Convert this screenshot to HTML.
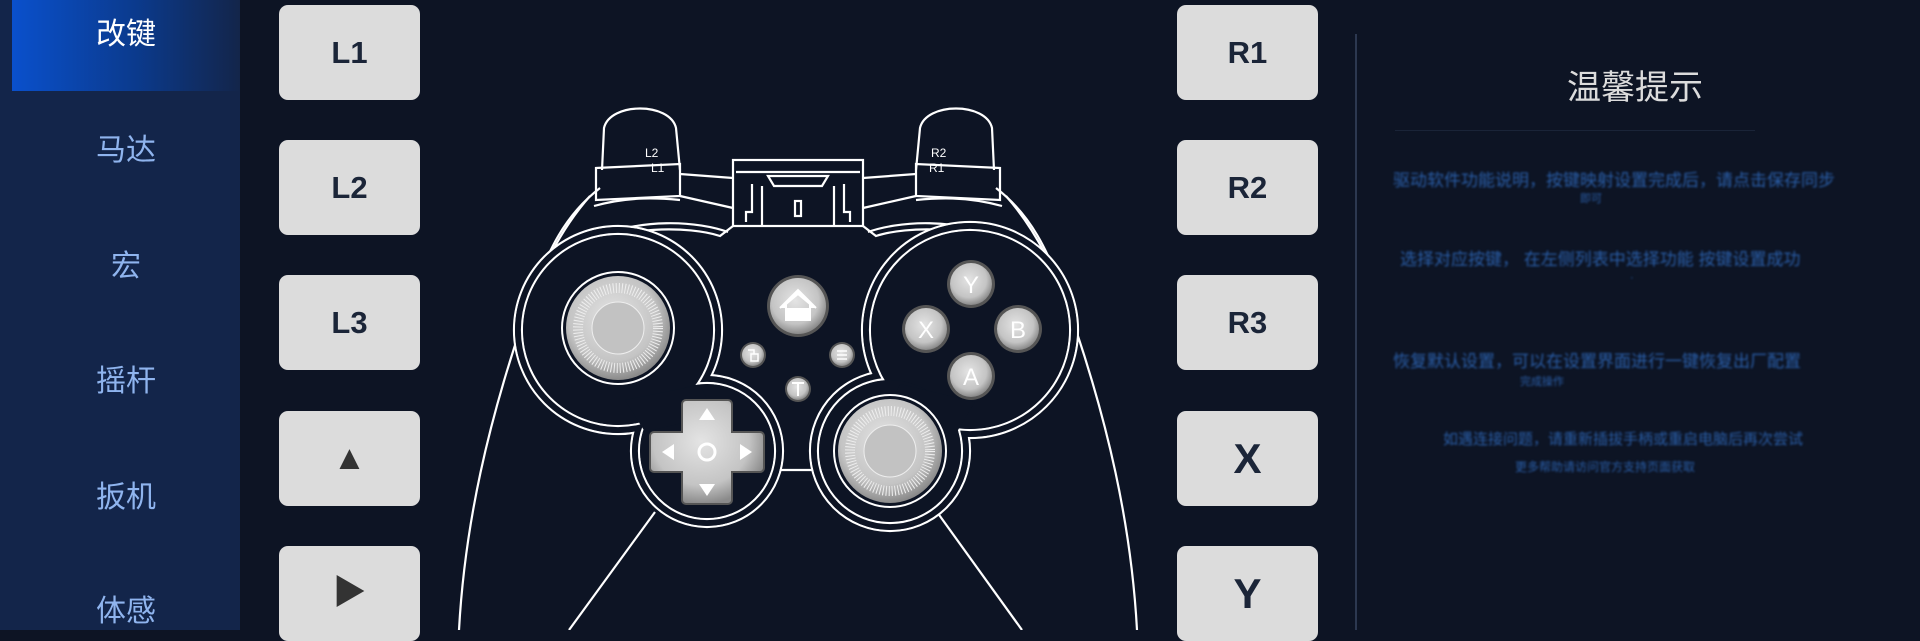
<!DOCTYPE html>
<html><head><meta charset="utf-8"><style>
html,body{margin:0;padding:0;}
body{width:1920px;height:630px;background:#0d1424;position:relative;overflow:hidden;font-family:"Liberation Sans","Noto Sans CJK SC",sans-serif;}
.side{position:absolute;left:0;top:0;width:240px;height:630px;background:#13254a;}
.act{position:absolute;left:12px;top:0;width:228px;height:91px;background:linear-gradient(90deg,#0a50cc,#0b3a8c 55%,#13254a);}
.nav{position:absolute;left:0;width:252px;text-align:center;font-size:30px;color:#8fb4ee;line-height:40px;}
.btn{position:absolute;width:141px;height:95px;background:#dcdcdc;border-radius:9px;color:#1b2538;font-weight:bold;font-size:31px;text-align:center;line-height:95px;}
.blur{position:absolute;color:#2a5ea8;font-size:17px;filter:blur(1px);white-space:nowrap;}
</style></head><body>
<div class="side"><div class="act"></div>
<div class="nav" style="top:15px;color:#fff">改键</div>
<div class="nav" style="top:131px">马达</div>
<div class="nav" style="top:247px">宏</div>
<div class="nav" style="top:362px">摇杆</div>
<div class="nav" style="top:478px">扳机</div>
<div class="nav" style="top:592px">体感</div>
</div>
<div class="btn" style="left:279px;top:5px">L1</div>
<div class="btn" style="left:279px;top:140px">L2</div>
<div class="btn" style="left:279px;top:275px">L3</div>
<div class="btn" style="left:279px;top:411px;font-size:34px;color:#333">▲</div>
<div class="btn" style="left:279px;top:546px;font-size:34px;color:#333">▶</div>
<div class="btn" style="left:1177px;top:5px">R1</div>
<div class="btn" style="left:1177px;top:140px">R2</div>
<div class="btn" style="left:1177px;top:275px">R3</div>
<div class="btn" style="left:1177px;top:411px;font-size:42px">X</div>
<div class="btn" style="left:1177px;top:546px;font-size:42px">Y</div>
<div style="position:absolute;left:1355px;top:34px;width:2px;height:596px;background:#2c3850"></div>
<div style="position:absolute;left:1535px;top:60px;width:200px;text-align:center;font-size:34px;color:#dcdcdc">温馨提示</div>
<div style="position:absolute;left:1395px;top:130px;width:360px;height:1px;background:#1a2438"></div>
<div class="blur" style="left:1393px;top:166px">驱动软件功能说明，按键映射设置完成后，请点击保存同步</div>
<div class="blur" style="left:1580px;top:190px;font-size:11px">即可</div>
<div class="blur" style="left:1400px;top:245px">选择对应按键， 在左侧列表中选择功能 按键设置成功</div>
<div class="blur" style="left:1630px;top:272px;font-size:11px">·</div>
<div class="blur" style="left:1393px;top:347px">恢复默认设置，可以在设置界面进行一键恢复出厂配置</div>
<div class="blur" style="left:1520px;top:373px;font-size:11px">完成操作</div>
<div class="blur" style="left:1443px;top:428px;font-size:15px">如遇连接问题，请重新插拔手柄或重启电脑后再次尝试</div>
<div class="blur" style="left:1515px;top:458px;font-size:12px">更多帮助请访问官方支持页面获取</div>
<svg style="position:absolute;left:0;top:0" width="1920" height="630" viewBox="0 0 1920 630">
<defs>
<radialGradient id="g" cx="45%" cy="40%" r="60%"><stop offset="0" stop-color="#e4e4e4"/><stop offset="0.7" stop-color="#c4c4c4"/><stop offset="1" stop-color="#8a8a8a"/></radialGradient>
</defs>
<g fill="none" stroke="#fff" stroke-width="2.2">
<path d="M590,196 C560,230 540,270 520,330 C490,420 465,520 459,630"/>
<path d="M1006,196 C1036,230 1056,270 1076,330 C1106,420 1131,520 1137,630"/>
<path d="M600,188 C565,215 548,250 530,300"/>
<path d="M996,188 C1031,215 1048,250 1066,300"/>
<path d="M602,170 L604,128 C610,102 670,102 676,128 L680,170"/>
<path d="M994,170 L992,128 C986,102 926,102 920,128 L916,170"/>
<path d="M596,168 L680,164 L680,196 L596,200 Z"/>
<path d="M1000,168 L916,164 L916,196 L1000,200 Z"/>
<path d="M594,206 C630,196 660,198 680,200"/>
<path d="M1002,206 C966,196 936,198 916,200"/>
<path d="M680,174 L733,178 M680,196 L733,208 M916,174 L863,178 M916,196 L863,208"/>
<rect x="733" y="160" width="130" height="66"/>
<path d="M736,172 L860,172 M768,176 L828,176 L822,186 L774,186 Z"/>
<rect x="795" y="201" width="6" height="15"/>
<path d="M752,184 L752,212 L746,212 L746,222 M844,184 L844,212 L850,212 L850,222 M762,186 L762,226 M834,186 L834,226"/>
<path d="M733,226 L720,236 C690,226 620,225 580,250 M863,226 L876,236 C906,226 976,225 1016,250"/>
<path d="M583,243 C640,215 700,222 728,232 M1013,243 C956,215 896,222 868,232"/>
<path d="M655,512 L569,630 M937,512 L1022,630"/>
<path d="M748,470 L848,470"/>
</g>
<g fill="#0d1424" stroke="#fff" stroke-width="2.2">
<circle cx="618" cy="330" r="104"/><circle cx="707" cy="451" r="76"/>
<circle cx="970" cy="330" r="108"/><circle cx="890" cy="451" r="80"/>
</g>
<g fill="#0d1424">
<circle cx="618" cy="330" r="103"/><circle cx="707" cy="451" r="75"/><path d="M620,400 L700,378 L720,420 L640,440 Z"/>
<circle cx="970" cy="330" r="107"/><circle cx="890" cy="451" r="79"/><path d="M980,400 L900,376 L880,420 L960,440 Z"/>
</g>
<g fill="#0d1424" stroke="#fff" stroke-width="2.2">
<circle cx="618" cy="330" r="96"/><circle cx="707" cy="451" r="68"/>
<circle cx="970" cy="330" r="100"/><circle cx="890" cy="451" r="72"/>
</g>
<g fill="#0d1424">
<circle cx="618" cy="330" r="95"/><circle cx="707" cy="451" r="67"/><path d="M625,400 L700,385 L715,415 L645,432 Z"/>
<circle cx="970" cy="330" r="99"/><circle cx="890" cy="451" r="71"/><path d="M975,402 L900,384 L885,415 L955,435 Z"/>
</g>
<g>
<circle cx="618" cy="328" r="56" fill="none" stroke="#fff" stroke-width="2"/>
<circle cx="618" cy="328" r="52" fill="url(#g)"/>
<circle cx="618" cy="328" r="40" fill="none" stroke="#eee" stroke-width="10" stroke-dasharray="1 2"/>
<circle cx="618" cy="328" r="26" fill="#c2c2c2" stroke="#eee" stroke-width="1"/>
<circle cx="890" cy="451" r="56" fill="none" stroke="#fff" stroke-width="2"/>
<circle cx="890" cy="451" r="52" fill="url(#g)"/>
<circle cx="890" cy="451" r="40" fill="none" stroke="#eee" stroke-width="10" stroke-dasharray="1 2"/>
<circle cx="890" cy="451" r="26" fill="#c2c2c2" stroke="#eee" stroke-width="1"/>
</g>
<path d="M686,400 h42 a4 4 0 0 1 4 4 v28 h28 a4 4 0 0 1 4 4 v32 a4 4 0 0 1 -4 4 h-28 v28 a4 4 0 0 1 -4 4 h-42 a4 4 0 0 1 -4 -4 v-28 h-28 a4 4 0 0 1 -4 -4 v-32 a4 4 0 0 1 4 -4 h28 v-28 a4 4 0 0 1 4 -4 z" fill="url(#g)" stroke="#555" stroke-width="2"/>
<g fill="#fff"><path d="M707,408 l8,12 h-16 z M707,496 l8,-12 h-16 z M662,452 l12,-8 v16 z M752,452 l-12,-8 v16 z"/></g>
<circle cx="707" cy="452" r="8" fill="none" stroke="#fff" stroke-width="3"/>
<circle cx="798" cy="306" r="31" fill="#555"/><circle cx="798" cy="306" r="28" fill="url(#g)"/>
<path d="M780,308 L798,290 L816,308 M786,304 v16 h24 v-16 L798,294 Z" fill="#fff" stroke="#fff" stroke-width="2"/>
<g>
<circle cx="753" cy="355" r="13" fill="#555"/><circle cx="753" cy="355" r="11" fill="url(#g)"/>
<circle cx="842" cy="355" r="13" fill="#555"/><circle cx="842" cy="355" r="11" fill="url(#g)"/>
<circle cx="798" cy="389" r="13" fill="#555"/><circle cx="798" cy="389" r="11" fill="url(#g)"/>
<path d="M748,350 h6 v4 M751,354 h7 v7 h-7 z" fill="none" stroke="#fff" stroke-width="1.5"/>
<path d="M837,351 h10 M837,355 h10 M837,359 h10" stroke="#fff" stroke-width="1.5"/>
<path d="M792,383 h12 M798,383 v13" stroke="#fff" stroke-width="2"/>
</g>
<g font-family="Liberation Sans" font-size="24" fill="#fff" text-anchor="middle">
<circle cx="971" cy="284" r="24" fill="#555"/><circle cx="971" cy="284" r="21" fill="url(#g)"/><text x="971" y="293">Y</text>
<circle cx="926" cy="329" r="24" fill="#555"/><circle cx="926" cy="329" r="21" fill="url(#g)"/><text x="926" y="338">X</text>
<circle cx="1018" cy="329" r="24" fill="#555"/><circle cx="1018" cy="329" r="21" fill="url(#g)"/><text x="1018" y="338">B</text>
<circle cx="971" cy="376" r="24" fill="#555"/><circle cx="971" cy="376" r="21" fill="url(#g)"/><text x="971" y="385">A</text>
</g>
<g font-family="Liberation Sans" font-size="12" fill="#fff">
<text x="645" y="157">L2</text><text x="651" y="172">L1</text>
<text x="931" y="157">R2</text><text x="929" y="172">R1</text>
</g>
</svg>
</body></html>
